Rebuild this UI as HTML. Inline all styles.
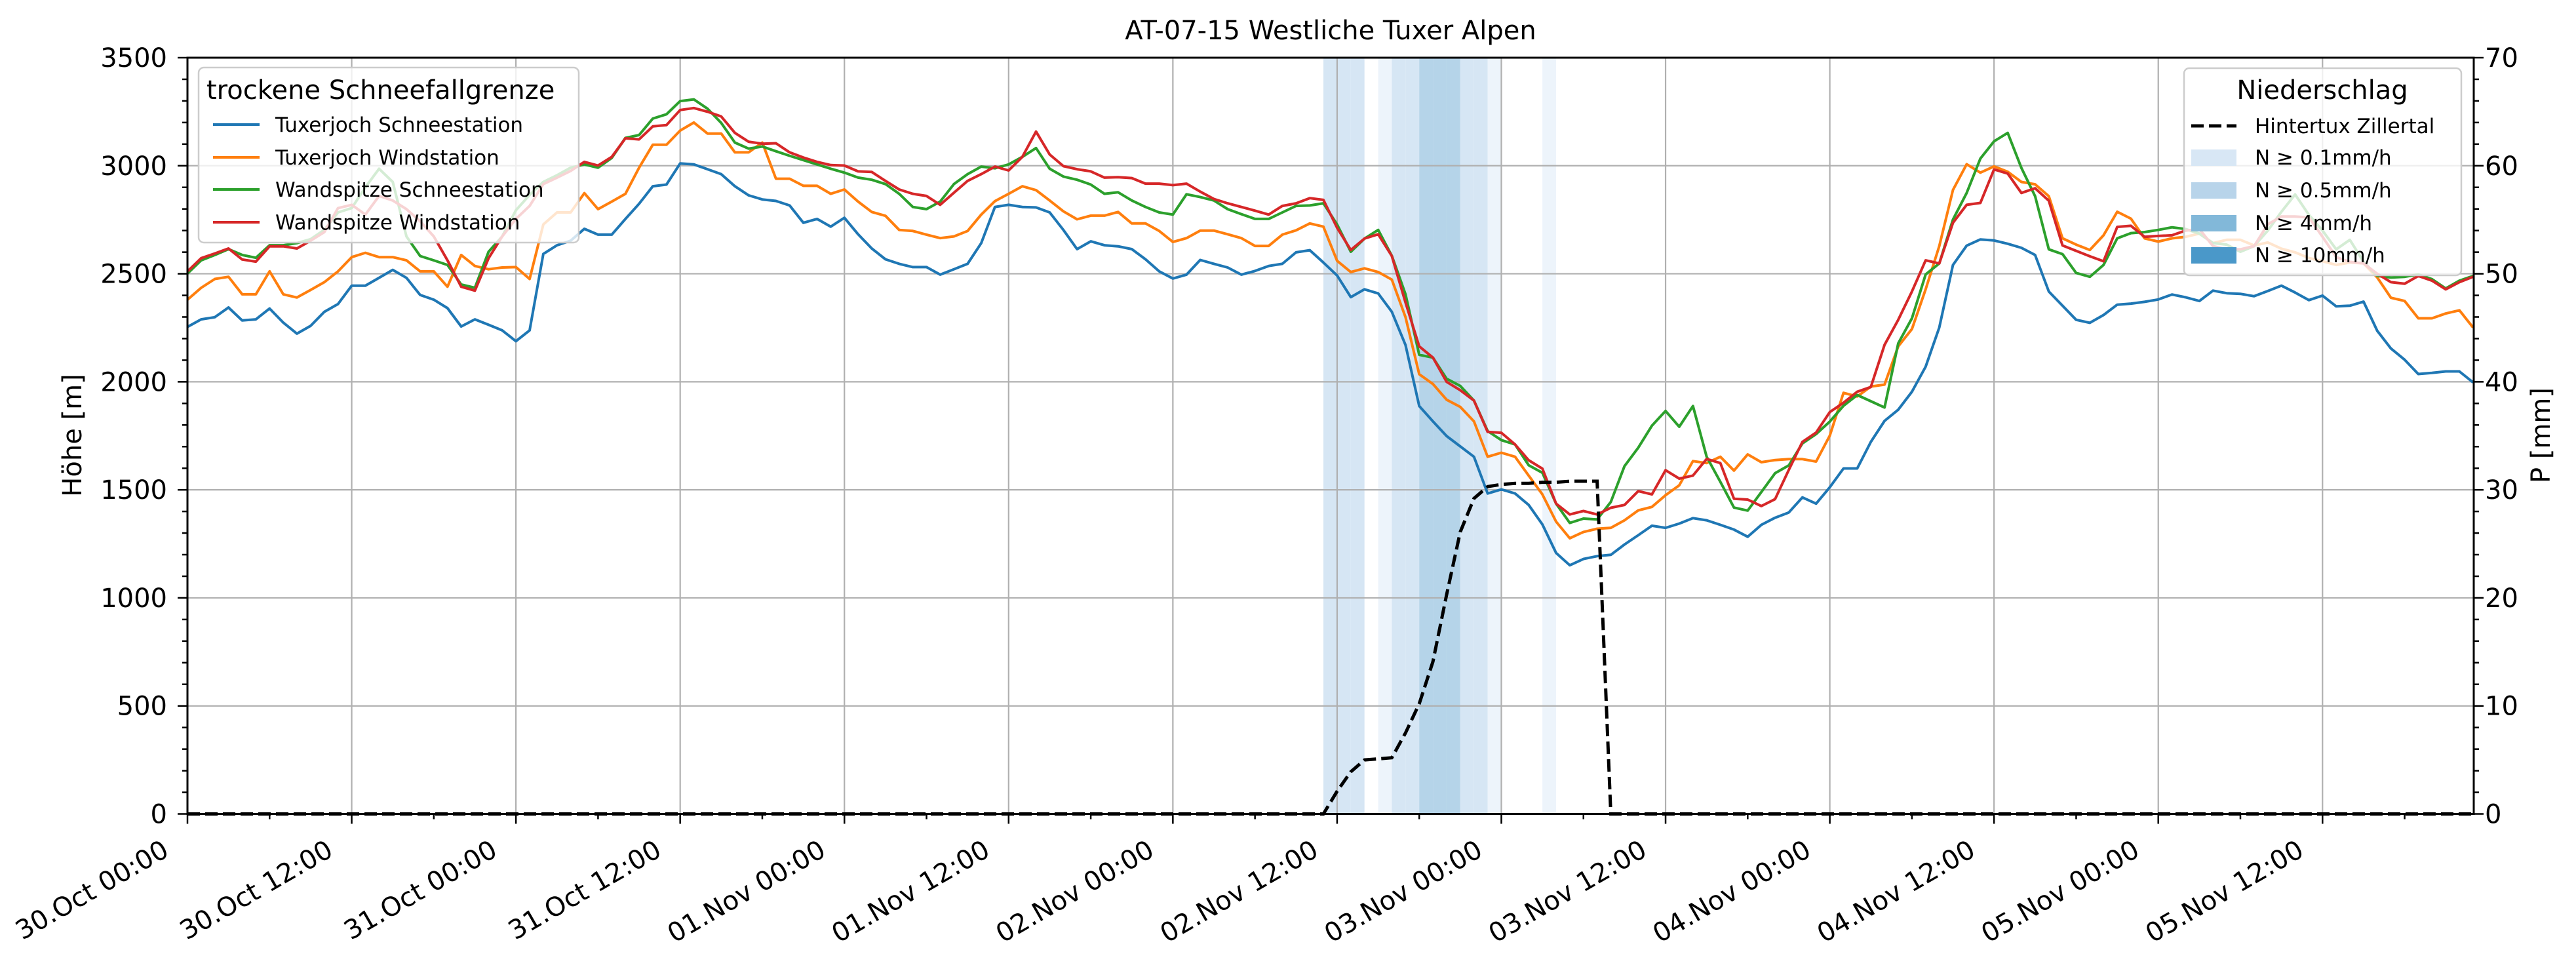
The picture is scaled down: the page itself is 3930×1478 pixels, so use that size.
<!DOCTYPE html>
<html><head><meta charset="utf-8"><title>AT-07-15 Westliche Tuxer Alpen</title>
<style>html,body{margin:0;padding:0;background:#fff;}svg{display:block;font-family:"DejaVu Sans","Liberation Sans",sans-serif;}</style>
</head><body>
<svg id="chart" xmlns="http://www.w3.org/2000/svg" width="3930" height="1478" viewBox="0 0 3930 1478">
<rect width="3930" height="1478" fill="#fff"/>
<g id="bands"></g>
<g id="grid"></g>
<g id="series"></g>
<g id="axes"></g>
<text x="2030" y="60" font-size="40" text-anchor="middle">AT-07-15 Westliche Tuxer Alpen</text>
<text x="0" y="0" font-size="40" text-anchor="middle" transform="translate(124,664) rotate(-90)">Höhe [m]</text>
<text x="0" y="0" font-size="40" text-anchor="middle" transform="translate(3890,664) rotate(-90)">P [mm]</text>
<g id="legend-left">
 <rect x="303" y="103" width="580" height="267" rx="8" fill="#fff" fill-opacity="0.8" stroke="#cccccc" stroke-width="2.5"/>
 <text x="315" y="151" font-size="40">trockene Schneefallgrenze</text>
 <g><line x1="325" y1="190" x2="396" y2="190" stroke="#1f77b4" stroke-width="4"/><text x="420" y="201" font-size="31">Tuxerjoch Schneestation</text></g>
 <g><line x1="325" y1="240" x2="396" y2="240" stroke="#ff7f0e" stroke-width="4"/><text x="420" y="251" font-size="31">Tuxerjoch Windstation</text></g>
 <g><line x1="325" y1="289" x2="396" y2="289" stroke="#2ca02c" stroke-width="4"/><text x="420" y="300" font-size="31">Wandspitze Schneestation</text></g>
 <g><line x1="325" y1="339" x2="396" y2="339" stroke="#d62728" stroke-width="4"/><text x="420" y="350" font-size="31">Wandspitze Windstation</text></g>
</g>
<g id="legend-right">
 <rect x="3332" y="104" width="423" height="316" rx="8" fill="#fff" fill-opacity="0.8" stroke="#cccccc" stroke-width="2.5"/>
 <text x="3543" y="151" font-size="40" text-anchor="middle">Niederschlag</text>
 <g><line x1="3343" y1="192" x2="3412" y2="192" stroke="#000" stroke-width="5" stroke-dasharray="19,8"/><text x="3440" y="203" font-size="31">Hintertux Zillertal</text></g>
 <g><rect x="3343" y="228" width="69" height="25" fill="#d8e7f5"/><text x="3440" y="251" font-size="31">N ≥ 0.1mm/h</text></g>
 <g><rect x="3343" y="278" width="69" height="25" fill="#b8d4ea"/><text x="3440" y="301" font-size="31">N ≥ 0.5mm/h</text></g>
 <g><rect x="3343" y="328" width="69" height="25" fill="#82b8d9"/><text x="3440" y="351" font-size="31">N ≥ 4mm/h</text></g>
 <g><rect x="3343" y="377" width="69" height="25" fill="#4a98c9"/><text x="3440" y="400" font-size="31">N ≥ 10mm/h</text></g>
</g>
</svg>
<script>
const tuxerjochSchnee = [2254,2289,2299,2344,2284,2289,2339,2274,2223,2259,
2324,2360,2445,2445,2481,2518,2481,2402,2380,2341,
2256,2289,2264,2238,2188,2238,2592,2632,2653,2708,
2681,2681,2754,2824,2905,2913,3011,3006,2984,2961,
2905,2863,2844,2837,2816,2736,2754,2718,2759,2683,
2617,2567,2546,2531,2531,2496,2521,2546,2642,2809,
2819,2809,2807,2784,2703,2614,2650,2632,2627,2614,
2567,2511,2478,2496,2564,2546,2529,2496,2513,2536,
2546,2599,2609,2552,2492,2392,2428,2409,2324,2170,
1888,1817,1749,1701,1653,1483,1502,1483,1430,1340,
1208,1151,1180,1193,1199,1247,1290,1334,1324,1344,
1369,1359,1338,1316,1283,1338,1371,1395,1465,1436,
1512,1599,1599,1722,1819,1871,1954,2070,2251,2541,
2630,2659,2654,2639,2620,2587,2418,2352,2287,2273,
2309,2357,2362,2370,2381,2404,2391,2374,2422,2410,
2407,2396,2420,2445,2413,2378,2399,2349,2352,2371,
2236,2154,2102,2036,2041,2048,2048,1997];
const tuxerjochWind = [2380,2435,2476,2486,2405,2405,2511,2405,2390,2425,
2461,2511,2577,2597,2577,2577,2562,2511,2511,2440,
2587,2536,2521,2529,2531,2476,2728,2784,2784,2873,
2799,2834,2870,2991,3097,3097,3163,3200,3149,3149,
3062,3062,3107,2940,2940,2907,2907,2870,2890,2834,
2786,2768,2703,2698,2681,2665,2673,2698,2774,2836,
2870,2905,2887,2839,2789,2752,2769,2769,2786,2733,
2733,2698,2647,2665,2700,2700,2683,2665,2629,2629,
2681,2701,2733,2718,2560,2508,2525,2508,2473,2299,
2035,1990,1917,1884,1817,1653,1672,1653,1566,1479,
1353,1276,1305,1320,1324,1359,1405,1421,1475,1521,
1633,1624,1653,1589,1664,1628,1638,1642,1642,1631,
1751,1949,1932,1978,1987,2164,2244,2428,2628,2888,
3007,2968,2997,2972,2925,2914,2859,2664,2635,2610,
2678,2787,2755,2664,2649,2664,2671,2686,2642,2657,
2657,2631,2645,2616,2599,2573,2558,2541,2552,2548,
2483,2389,2374,2294,2294,2316,2331,2251];
const wandspitzeSchnee = [2501,2562,2587,2614,2587,2574,2632,2632,2642,2660,
2703,2784,2804,2900,2986,2925,2673,2582,2562,2541,
2450,2435,2602,2673,2794,2865,2925,2956,2991,3006,
2991,3036,3129,3142,3218,3238,3299,3307,3264,3198,
3107,3079,3089,3067,3046,3026,3006,2986,2968,2945,
2935,2915,2870,2809,2799,2834,2915,2961,2996,2988,
3006,3041,3082,2986,2950,2935,2913,2870,2877,2839,
2809,2784,2774,2868,2855,2839,2799,2776,2754,2754,
2784,2814,2816,2826,2728,2602,2663,2703,2583,2405,
2125,2112,2014,1981,1913,1772,1730,1710,1614,1579,
1436,1347,1367,1363,1444,1610,1695,1797,1865,1792,
1888,1653,1537,1418,1404,1490,1577,1613,1715,1758,
1816,1889,1939,1910,1881,2178,2294,2497,2548,2751,
2874,3033,3113,3152,2990,2859,2613,2591,2504,2486,
2541,2664,2688,2693,2703,2715,2707,2686,2642,2635,
2602,2628,2700,2787,2867,2773,2700,2613,2657,2555,
2490,2483,2486,2497,2475,2432,2468,2490];
const wandspitzeWind = [2511,2572,2594,2617,2566,2556,2627,2627,2617,2653,
2693,2804,2819,2774,2860,2839,2799,2743,2673,2562,
2440,2422,2572,2673,2754,2814,2915,2945,2976,3018,
3001,3041,3127,3122,3182,3188,3258,3267,3250,3228,
3152,3111,3102,3104,3062,3038,3018,3003,3001,2974,
2971,2930,2890,2870,2860,2819,2875,2930,2961,2996,
2978,3041,3158,3052,2998,2984,2974,2945,2947,2943,
2917,2917,2910,2917,2880,2846,2826,2809,2792,2774,
2814,2826,2850,2842,2713,2610,2663,2683,2582,2367,
2164,2112,2000,1961,1913,1768,1764,1710,1637,1598,
1436,1386,1402,1386,1417,1430,1494,1479,1591,1552,
1566,1643,1624,1459,1455,1425,1457,1592,1722,1765,
1860,1903,1954,1976,2171,2287,2418,2562,2548,2736,
2819,2828,2983,2964,2874,2896,2838,2631,2606,2581,
2558,2717,2722,2671,2675,2678,2700,2707,2628,2613,
2613,2628,2729,2765,2765,2761,2671,2577,2555,2548,
2500,2461,2454,2490,2468,2428,2461,2486];
const precipHintertux = [0,0,0,0,0,0,0,0,0,0,0,0,
0,0,0,0,0,0,0,0,0,0,0,0,
0,0,0,0,0,0,0,0,0,0,0,0,
0,0,0,0,0,0,0,0,0,0,0,0,
0,0,0,0,0,0,0,0,0,0,0,0,
0,0,0,0,0,0,0,0,0,0,0,0,
0,0,0,0,0,0,0,0,0,0,0,0,
2.1,3.9,5.0,5.1,5.2,7.5,10.2,14.1,20.3,26.1,29.2,30.3,30.5,30.6,30.6,30.7,30.7,30.8,30.8,30.8,
0,0,0,0,0,0,0,0,0,0,0,0,
0,0,0,0,0,0,0,0,0,0,0,0,
0,0,0,0,0,0,0,0,0,0,0,0,
0,0,0,0,0,0,0,0,0,0,0,0,
0,0,0,0,0,0,0,0,0,0,0,0,
0,0,0,0];
const bandHours = [83,84,85,87,88,89,90,91,92,93,94,95,99];
const bandLevels = [1,1,1,0,1,1,2,2,2,1,1,0,0];
const xTickLabels = ["30.Oct 00:00","30.Oct 12:00","31.Oct 00:00","31.Oct 12:00","01.Nov 00:00","01.Nov 12:00","02.Nov 00:00","02.Nov 12:00","03.Nov 00:00","03.Nov 12:00","04.Nov 00:00","04.Nov 12:00","05.Nov 00:00","05.Nov 12:00"];
const yTicks = [0,500,1000,1500,2000,2500,3000,3500];
const y2Ticks = [0,10,20,30,40,50,60,70];

const NS = "http://www.w3.org/2000/svg";
const L = 286, R = 3774, T = 88, B = 1241.5;
const HMAX = 167.05, YMAX = 3500, PMAX = 70;
function xs(h){ return L + h * (R - L) / HMAX; }
function ys(m){ return B - m * (B - T) / YMAX; }
function yp(p){ return B - p * (B - T) / PMAX; }
function mk(tag, attrs, parent){
  const e = document.createElementNS(NS, tag);
  for (const k in attrs) e.setAttribute(k, attrs[k]);
  parent.appendChild(e);
  return e;
}
const gBands = document.getElementById('bands');
const gGrid = document.getElementById('grid');
const gSeries = document.getElementById('series');
const gAxes = document.getElementById('axes');
const bandColors = ["#edf4fb","#d6e6f4","#b5d4e9","#4a98c9"];

bandHours.forEach((h, i) => {
  const r = mk('rect', {x: xs(h), y: T, width: xs(h + 1) - xs(h), height: B - T, fill: bandColors[bandLevels[i]]}, gBands);
  
  
});

xTickLabels.forEach((lab, i) => {
  const x = xs(i * 12);
  const g = mk('line', {x1: x, y1: T, x2: x, y2: B, stroke: '#b0b0b0', 'stroke-width': 2.2}, gGrid);
  
  
});
yTicks.forEach(v => {
  const y = ys(v);
  const g = mk('line', {x1: L, y1: y, x2: R, y2: y, stroke: '#b0b0b0', 'stroke-width': 2.2}, gGrid);
  
  
});

function drawSeries(arr, color, name){
  const pts = arr.map((v, h) => xs(h).toFixed(1) + ',' + ys(v).toFixed(1)).join(' ');
  const p = mk('polyline', {points: pts, fill: 'none', stroke: color, 'stroke-width': 4, 'stroke-linejoin': 'round'}, gSeries);
  
  
}
drawSeries(tuxerjochSchnee, '#1f77b4', 'line-tuxerjoch-schneestation');
drawSeries(tuxerjochWind, '#ff7f0e', 'line-tuxerjoch-windstation');
drawSeries(wandspitzeSchnee, '#2ca02c', 'line-wandspitze-schneestation');
drawSeries(wandspitzeWind, '#d62728', 'line-wandspitze-windstation');
const pPts = precipHintertux.map((v, h) => xs(h).toFixed(1) + ',' + yp(v).toFixed(1)).join(' ');
const pl = mk('polyline', {points: pPts, fill: 'none', stroke: '#000', 'stroke-width': 5, 'stroke-dasharray': '19,8'}, gSeries);



const frame = mk('rect', {x: L, y: T, width: R - L, height: B - T, fill: 'none', stroke: '#000', 'stroke-width': 3}, gAxes);



for (let h = 0; h <= 166; h += 6) {
  const major = h % 12 === 0;
  mk('line', {x1: xs(h), y1: B, x2: xs(h), y2: B + (major ? 15 : 8), stroke: '#000', 'stroke-width': 2.5}, gAxes);
}
xTickLabels.forEach((lab, i) => {
  const ax = xs(i * 12) - 26, ay = 1304;
  const t = mk('text', {x: ax, y: ay, 'font-size': 40, 'text-anchor': 'end', transform: 'rotate(-30 ' + ax + ' ' + ay + ')'}, gAxes);
  t.textContent = lab;
  
  
});
for (let v = 0; v <= 3500; v += 100) {
  const major = v % 500 === 0;
  mk('line', {x1: L, y1: ys(v), x2: L - (major ? 15 : 8), y2: ys(v), stroke: '#000', 'stroke-width': 2.5}, gAxes);
}
yTicks.forEach(v => {
  const t = mk('text', {x: 255, y: ys(v) + 14, 'font-size': 40, 'text-anchor': 'end'}, gAxes);
  t.textContent = String(v);
  
  
});
for (let p = 0; p <= 70; p += 2) {
  const major = p % 10 === 0;
  mk('line', {x1: R, y1: yp(p), x2: R + (major ? 15 : 8), y2: yp(p), stroke: '#000', 'stroke-width': 2.5}, gAxes);
}
y2Ticks.forEach(p => {
  const t = mk('text', {x: 3791, y: yp(p) + 14, 'font-size': 40}, gAxes);
  t.textContent = String(p);
  
  
});
</script>
</body></html>
